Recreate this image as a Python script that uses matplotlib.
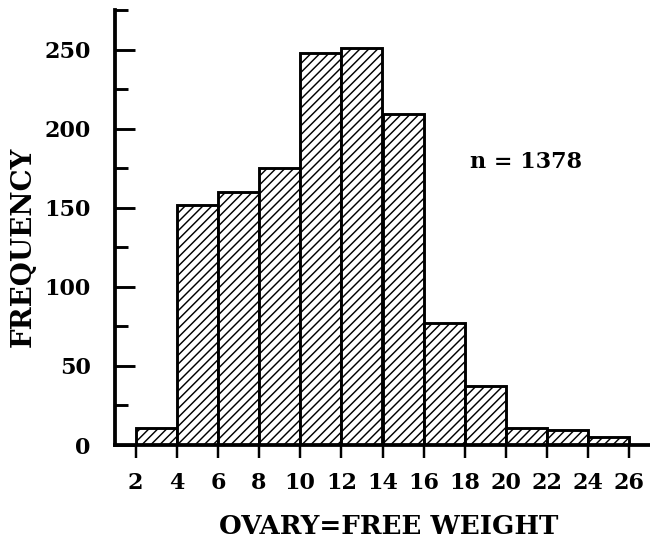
import matplotlib
matplotlib.use("Agg")
import matplotlib.pyplot as plt
import numpy as np

# histogram of ovary-free weight
bin_edges = [2, 4, 6, 8, 10, 12, 14, 16, 18, 20, 22, 24, 26]
counts = [11, 152, 160, 175, 248, 251, 209, 77, 37, 11, 9.5, 5]
x_ticks = list(range(2, 27, 2))
y_major = [0, 50, 100, 150, 200, 250]
y_minor = [25, 75, 125, 175, 225, 275]
n_label = "n = 1378"

DPI = 80
W, H = 650, 544
plt.rcParams["font.family"] = "DejaVu Serif"
plt.rcParams["font.weight"] = "bold"
plt.rcParams["hatch.linewidth"] = 1.3

fig = plt.figure(figsize=(W / DPI, H / DPI), dpi=DPI)
ax = fig.add_axes([115 / W, 99 / H, 535 / W, 435 / H])

left = bin_edges[:-1]
widths = np.diff(bin_edges)
ax.bar(left, counts, width=widths, align="edge", facecolor="white",
       edgecolor="black", linewidth=2.6, hatch="///", zorder=2)

ax.set_xlim(1, 27)
ax.set_ylim(0, 275)

for side in ("top", "right"):
    ax.spines[side].set_visible(False)
for side in ("left", "bottom"):
    ax.spines[side].set_linewidth(3.4)
    ax.spines[side].set_zorder(3)

ax.set_xticks(x_ticks)
ax.set_yticks(y_major)
ax.set_yticks(y_minor, minor=True)
ax.tick_params(axis="x", direction="out", length=12, width=2.2, pad=12,
               labelsize=20)
ax.tick_params(axis="y", which="major", direction="in", length=18, width=2.6,
               pad=22, labelsize=20)
ax.tick_params(axis="y", which="minor", direction="in", length=12, width=2.6)

fig.text(389 / W, 1 - 527 / H, "OVARY=FREE WEIGHT", fontsize=23.5,
         fontweight="bold", ha="center", va="center")
fig.text(23 / W, 1 - 247 / H, "FREQUENCY", fontsize=25, fontweight="bold",
         rotation=90, ha="center", va="center")

ax.text(21, 179, n_label, fontsize=20, fontweight="bold",
        ha="center", va="center")

fig.savefig("out.png", dpi=DPI)
